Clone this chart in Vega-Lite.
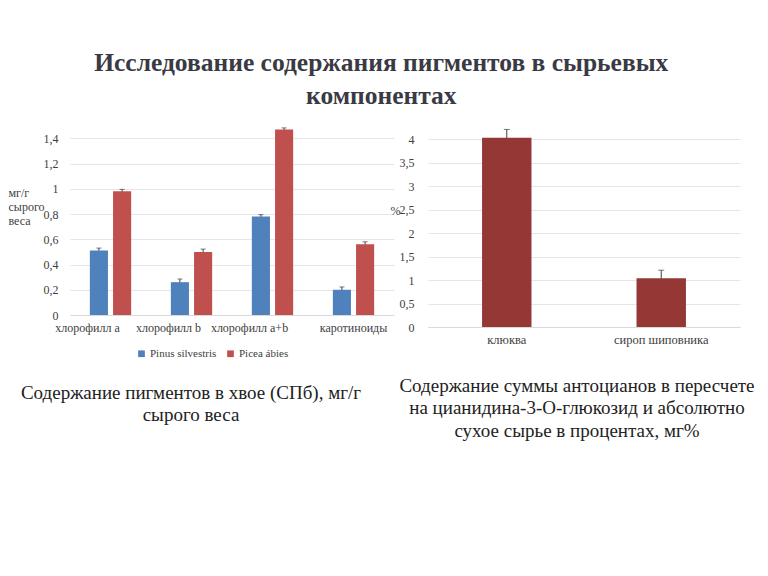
{
  "$schema": "https://vega.github.io/schema/vega-lite/v6.json",
  "background": "white",
  "padding": {"left": 8, "top": 50, "right": 10, "bottom": 10},
  "title": {
    "text": ["Исследование содержания пигментов в сырьевых", "компонентах"],
    "font": "Liberation Serif",
    "fontSize": 25.5,
    "fontWeight": "bold",
    "color": "#3a3a44",
    "lineHeight": 33,
    "anchor": "middle",
    "offset": 4
  },
  "bounds": "flush",
  "spacing": 34,
  "resolve": {"legend": {"color": "independent"}},
  "hconcat": [
    {
      "width": 324,
      "height": 202,
      "title": {
        "text": ["Содержание пигментов в хвое (СПб), мг/г", "сырого веса"],
        "orient": "bottom",
        "font": "Liberation Serif",
        "fontSize": 19,
        "fontWeight": "normal",
        "lineHeight": 22,
        "color": "#222222",
        "anchor": "middle",
        "frame": "group",
        "dx": -41,
        "offset": 25
      },
      "data": {
        "values": [
          {"pigment": "хлорофилл a", "species": "Pinus silvestris", "value": 0.51, "lo": 0.49, "hi": 0.53},
          {"pigment": "хлорофилл a", "species": "Picea ábies", "value": 0.98, "lo": 0.965, "hi": 0.995},
          {"pigment": "хлорофилл b", "species": "Pinus silvestris", "value": 0.26, "lo": 0.235, "hi": 0.285},
          {"pigment": "хлорофилл b", "species": "Picea ábies", "value": 0.50, "lo": 0.478, "hi": 0.522},
          {"pigment": "хлорофилл a+b", "species": "Pinus silvestris", "value": 0.78, "lo": 0.765, "hi": 0.795},
          {"pigment": "хлорофилл a+b", "species": "Picea ábies", "value": 1.47, "lo": 1.458, "hi": 1.482},
          {"pigment": "каротиноиды", "species": "Pinus silvestris", "value": 0.20, "lo": 0.178, "hi": 0.222},
          {"pigment": "каротиноиды", "species": "Picea ábies", "value": 0.56, "lo": 0.54, "hi": 0.58}
        ]
      },
      "encoding": {
        "x": {
          "field": "pigment",
          "type": "nominal",
          "sort": null,
          "scale": {"paddingInner": 0.49, "paddingOuter": 0.245},
          "axis": {
            "title": null,
            "labelAngle": 0,
            "labelFont": "Liberation Serif",
            "labelFontSize": 12,
            "labelColor": "#404040",
            "labelPadding": 7,
            "ticks": false,
            "domainColor": "#d9d9d9",
            "labelOffset": {"condition": {"test": "datum.value === 'каротиноиды'", "value": 0}, "value": -23}
          }
        },
        "xOffset": {"field": "species", "type": "nominal", "sort": null, "scale": {"paddingInner": 0.22}}
      },
      "layer": [
        {
          "mark": {"type": "rule", "color": "#404040", "strokeWidth": 1},
          "encoding": {
            "y": {
              "field": "lo",
              "type": "quantitative",
              "scale": {"domain": [0, 1.6], "nice": false},
              "axis": {
                "values": [0, 0.2, 0.4, 0.6, 0.8, 1, 1.2, 1.4],
                "labelExpr": "replace(format(datum.value, '~g'), '.', ',')",
                "labelOverlap": false,
                "labelFont": "Liberation Serif",
                "labelFontSize": 12,
                "labelColor": "#404040",
                "labelPadding": 12,
                "ticks": false,
                "domain": false,
                "gridColor": "#e6e6e6",
                "title": ["мг/г", "сырого", "веса"],
                "titleAngle": 0,
                "titleAlign": "left",
                "titleBaseline": "top",
                "titleX": -62,
                "titleY": 74,
                "titleFont": "Liberation Serif",
                "titleFontSize": 12,
                "titleFontWeight": "normal",
                "titleColor": "#404040",
                "titleLineHeight": 14
              }
            },
            "y2": {"field": "hi"}
          }
        },
        {
          "mark": {"type": "bar"},
          "encoding": {
            "y": {
              "field": "value",
              "type": "quantitative",
              "axis": {
                "values": [0, 0.2, 0.4, 0.6, 0.8, 1, 1.2, 1.4],
                "labelExpr": "replace(format(datum.value, '~g'), '.', ',')",
                "labelOverlap": false,
                "labelFont": "Liberation Serif",
                "labelFontSize": 12,
                "labelColor": "#404040",
                "labelPadding": 12,
                "ticks": false,
                "domain": false,
                "gridColor": "#e6e6e6",
                "title": ["мг/г", "сырого", "веса"],
                "titleAngle": 0,
                "titleAlign": "left",
                "titleBaseline": "top",
                "titleX": -62,
                "titleY": 74,
                "titleFont": "Liberation Serif",
                "titleFontSize": 12,
                "titleFontWeight": "normal",
                "titleColor": "#404040",
                "titleLineHeight": 14
              }
            },
            "color": {
              "field": "species",
              "type": "nominal",
              "sort": null,
              "scale": {"domain": ["Pinus silvestris", "Picea ábies"], "range": ["#4F81BD", "#C0504D"]},
              "legend": {
                "orient": "none",
                "legendX": 66,
                "legendY": 235,
                "direction": "horizontal",
                "title": null,
                "symbolType": "square",
                "symbolSize": 45,
                "symbolStrokeWidth": 0,
                "labelFont": "Liberation Serif",
                "labelFontSize": 11,
                "labelColor": "#404040",
                "columnPadding": 8,
                "labelOffset": 3
              }
            }
          }
        },
        {
          "mark": {"type": "tick", "color": "#404040", "thickness": 1, "size": 5},
          "encoding": {
            "y": {
              "field": "hi",
              "type": "quantitative",
              "axis": {
                "values": [0, 0.2, 0.4, 0.6, 0.8, 1, 1.2, 1.4],
                "labelExpr": "replace(format(datum.value, '~g'), '.', ',')",
                "labelOverlap": false,
                "labelFont": "Liberation Serif",
                "labelFontSize": 12,
                "labelColor": "#404040",
                "labelPadding": 12,
                "ticks": false,
                "domain": false,
                "gridColor": "#e6e6e6",
                "title": ["мг/г", "сырого", "веса"],
                "titleAngle": 0,
                "titleAlign": "left",
                "titleBaseline": "top",
                "titleX": -62,
                "titleY": 74,
                "titleFont": "Liberation Serif",
                "titleFontSize": 12,
                "titleFontWeight": "normal",
                "titleColor": "#404040",
                "titleLineHeight": 14
              }
            }
          }
        }
      ]
    },
    {
      "width": 312,
      "height": 214,
      "title": {
        "text": ["Содержание суммы антоцианов в пересчете", "на цианидина-3-О-глюкозид и абсолютно", "сухое сырье в процентах, мг%"],
        "orient": "bottom",
        "font": "Liberation Serif",
        "fontSize": 19,
        "fontWeight": "normal",
        "lineHeight": 22.5,
        "color": "#222222",
        "anchor": "middle",
        "frame": "group",
        "dx": -7,
        "offset": 31
      },
      "data": {
        "values": [
          {"item": "клюква", "value": 4.03, "lo": 3.85, "hi": 4.21},
          {"item": "сироп шиповника", "value": 1.04, "lo": 0.87, "hi": 1.21}
        ]
      },
      "encoding": {
        "x": {
          "field": "item",
          "type": "nominal",
          "sort": null,
          "scale": {"paddingInner": 0.68, "paddingOuter": 0.35},
          "axis": {
            "title": null,
            "labelAngle": 0,
            "labelFont": "Liberation Serif",
            "labelFontSize": 12.5,
            "labelColor": "#404040",
            "labelPadding": 6,
            "ticks": false,
            "domainColor": "#d9d9d9"
          }
        }
      },
      "layer": [
        {
          "mark": {"type": "rule", "color": "#404040", "strokeWidth": 1},
          "encoding": {
            "y": {
              "field": "lo",
              "type": "quantitative",
              "scale": {"domain": [0, 4.56], "nice": false},
              "axis": {
                "values": [0, 0.5, 1, 1.5, 2, 2.5, 3, 3.5, 4],
                "labelExpr": "replace(format(datum.value, '~g'), '.', ',')",
                "labelOverlap": false,
                "labelFont": "Liberation Serif",
                "labelFontSize": 12,
                "labelColor": "#404040",
                "labelPadding": 14,
                "ticks": false,
                "domain": false,
                "gridColor": "#e6e6e6",
                "title": "%",
                "titleAngle": 0,
                "titleAlign": "left",
                "titleBaseline": "middle",
                "titleX": -38,
                "titleY": 97,
                "titleFont": "Liberation Serif",
                "titleFontSize": 12,
                "titleFontWeight": "normal",
                "titleColor": "#404040"
              }
            },
            "y2": {"field": "hi"}
          }
        },
        {
          "mark": {"type": "bar", "color": "#953735"},
          "encoding": {
            "y": {
              "field": "value",
              "type": "quantitative",
              "axis": {
                "values": [0, 0.5, 1, 1.5, 2, 2.5, 3, 3.5, 4],
                "labelExpr": "replace(format(datum.value, '~g'), '.', ',')",
                "labelOverlap": false,
                "labelFont": "Liberation Serif",
                "labelFontSize": 12,
                "labelColor": "#404040",
                "labelPadding": 14,
                "ticks": false,
                "domain": false,
                "gridColor": "#e6e6e6",
                "title": "%",
                "titleAngle": 0,
                "titleAlign": "left",
                "titleBaseline": "middle",
                "titleX": -38,
                "titleY": 97,
                "titleFont": "Liberation Serif",
                "titleFontSize": 12,
                "titleFontWeight": "normal",
                "titleColor": "#404040"
              }
            }
          }
        },
        {
          "mark": {"type": "tick", "color": "#404040", "thickness": 1, "size": 6},
          "encoding": {
            "y": {
              "field": "hi",
              "type": "quantitative",
              "axis": {
                "values": [0, 0.5, 1, 1.5, 2, 2.5, 3, 3.5, 4],
                "labelExpr": "replace(format(datum.value, '~g'), '.', ',')",
                "labelOverlap": false,
                "labelFont": "Liberation Serif",
                "labelFontSize": 12,
                "labelColor": "#404040",
                "labelPadding": 14,
                "ticks": false,
                "domain": false,
                "gridColor": "#e6e6e6",
                "title": "%",
                "titleAngle": 0,
                "titleAlign": "left",
                "titleBaseline": "middle",
                "titleX": -38,
                "titleY": 97,
                "titleFont": "Liberation Serif",
                "titleFontSize": 12,
                "titleFontWeight": "normal",
                "titleColor": "#404040"
              }
            }
          }
        }
      ]
    }
  ],
  "config": {
    "view": {"stroke": null},
    "font": "Liberation Serif"
  }
}
